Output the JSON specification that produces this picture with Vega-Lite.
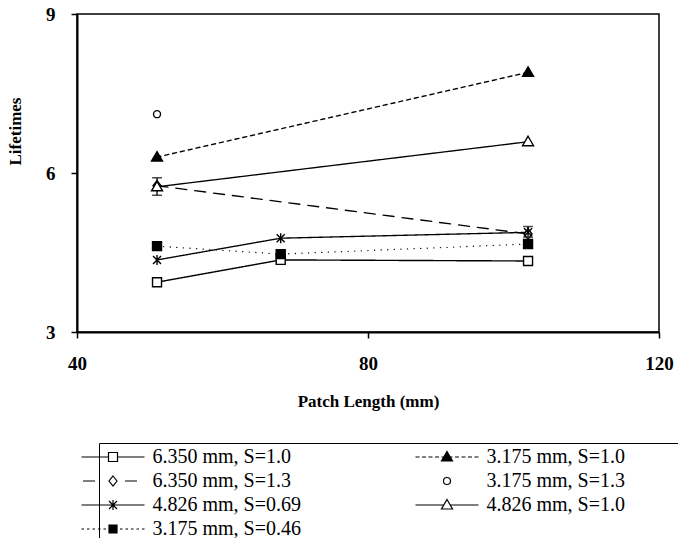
{
  "$schema": "https://vega.github.io/schema/vega-lite/v6.json",
  "width": 582,
  "height": 318,
  "autosize": "none",
  "padding": {"left": 77, "top": 14, "right": 19, "bottom": 206},
  "background": "white",
  "config": {
    "font": "Liberation Serif, Times New Roman, serif",
    "view": {"stroke": "black", "strokeWidth": 1.5},
    "axis": {
      "grid": false,
      "labelFont": "Liberation Serif, Times New Roman, serif",
      "labelFontWeight": "bold",
      "labelFontSize": 19,
      "labelColor": "black",
      "titleFont": "Liberation Serif, Times New Roman, serif",
      "titleFontWeight": "bold",
      "titleFontSize": 17,
      "titleColor": "black",
      "domainColor": "black",
      "domainWidth": 2,
      "tickColor": "black",
      "tickWidth": 1.5,
      "tickSize": 6,
      "labelPadding": 16
    }
  },
  "data": {
    "values": [
      {"s": "6.350 mm, S=1.0", "len": 51, "life": 3.94},
      {"s": "6.350 mm, S=1.0", "len": 68, "life": 4.36},
      {"s": "6.350 mm, S=1.0", "len": 102, "life": 4.34},
      {"s": "3.175 mm, S=1.0", "len": 51, "life": 6.30},
      {"s": "3.175 mm, S=1.0", "len": 102, "life": 7.90},
      {"s": "6.350 mm, S=1.3", "len": 51, "life": 5.76, "lo": 5.58, "hi": 5.91},
      {"s": "6.350 mm, S=1.3", "len": 102, "life": 4.85, "lo": 4.79, "hi": 4.99},
      {"s": "3.175 mm, S=1.3", "len": 51, "life": 7.11},
      {"s": "4.826 mm, S=0.69", "len": 51, "life": 4.36},
      {"s": "4.826 mm, S=0.69", "len": 68, "life": 4.77},
      {"s": "4.826 mm, S=0.69", "len": 102, "life": 4.88},
      {"s": "4.826 mm, S=1.0", "len": 51, "life": 5.74},
      {"s": "4.826 mm, S=1.0", "len": 102, "life": 6.59},
      {"s": "3.175 mm, S=0.46", "len": 51, "life": 4.62},
      {"s": "3.175 mm, S=0.46", "len": 68, "life": 4.47},
      {"s": "3.175 mm, S=0.46", "len": 102, "life": 4.66}
    ]
  },
  "resolve": {"scale": {"shape": "independent", "fill": "independent", "strokeWidth": "independent", "stroke": "independent"}},
  "layer": [
    {
      "transform": [{"filter": "datum.s !== '3.175 mm, S=1.3'"}],
      "mark": {"type": "line", "strokeCap": "round", "color": "black"},
      "encoding": {
        "x": {
          "field": "len", "type": "quantitative",
          "scale": {"domain": [40, 120], "nice": false, "zero": false},
          "axis": {"values": [40, 80, 120], "labelFlush": false, "titlePadding": 20},
          "title": "Patch Length (mm)"
        },
        "y": {
          "field": "life", "type": "quantitative",
          "scale": {"domain": [3, 9], "nice": false, "zero": false},
          "axis": {"values": [3, 6, 9], "titleX": -53, "titleY": 117},
          "title": "Lifetimes"
        },
        "detail": {"field": "s"},
        "strokeDash": {
          "field": "s", "type": "nominal", "legend": null,
          "scale": {
            "domain": ["6.350 mm, S=1.0", "3.175 mm, S=1.0", "6.350 mm, S=1.3", "4.826 mm, S=0.69", "4.826 mm, S=1.0", "3.175 mm, S=0.46"],
            "range": [[1, 0], [4, 4], [11, 8], [1, 0], [1, 0], [0.1, 6.5]]
          }
        },
        "strokeWidth": {
          "field": "s", "type": "nominal", "legend": null,
          "scale": {
            "domain": ["6.350 mm, S=1.0", "3.175 mm, S=1.0", "6.350 mm, S=1.3", "4.826 mm, S=0.69", "4.826 mm, S=1.0", "3.175 mm, S=0.46"],
            "range": [1.4, 1.3, 1.3, 1.4, 1.4, 3.4]
          }
        }
      }
    },
    {
      "transform": [{"filter": "isValid(datum.lo)"}],
      "mark": {"type": "rule", "color": "black", "strokeWidth": 1.3},
      "encoding": {
        "x": {"field": "len", "type": "quantitative"},
        "y": {"field": "lo", "type": "quantitative"},
        "y2": {"field": "hi"}
      }
    },
    {
      "transform": [{"filter": "isValid(datum.lo)"}],
      "mark": {"type": "tick", "orient": "horizontal", "size": 10, "thickness": 1.5, "color": "black"},
      "encoding": {
        "x": {"field": "len", "type": "quantitative"},
        "y": {"field": "lo", "type": "quantitative"}
      }
    },
    {
      "transform": [{"filter": "isValid(datum.hi)"}],
      "mark": {"type": "tick", "orient": "horizontal", "size": 10, "thickness": 1.5, "color": "black"},
      "encoding": {
        "x": {"field": "len", "type": "quantitative"},
        "y": {"field": "hi", "type": "quantitative"}
      }
    },
    {
      "mark": {"type": "point", "filled": true, "size": 100, "stroke": "black", "strokeWidth": 1.4, "opacity": 1},
      "encoding": {
        "x": {"field": "len", "type": "quantitative"},
        "y": {"field": "life", "type": "quantitative"},
        "fill": {
          "field": "s", "type": "nominal", "legend": null,
          "scale": {
            "domain": ["6.350 mm, S=1.0", "3.175 mm, S=1.0", "6.350 mm, S=1.3", "3.175 mm, S=1.3", "4.826 mm, S=0.69", "4.826 mm, S=1.0", "3.175 mm, S=0.46"],
            "range": ["white", "black", "white", "white", "white", "white", "black"]
          }
        },
        "shape": {
          "field": "s", "type": "nominal", "legend": null,
          "scale": {
            "domain": ["6.350 mm, S=1.0", "6.350 mm, S=1.3", "4.826 mm, S=0.69", "3.175 mm, S=0.46", "3.175 mm, S=1.0", "3.175 mm, S=1.3", "4.826 mm, S=1.0"],
            "range": [
              "M-0.9,-0.9L0.9,-0.9L0.9,0.9L-0.9,0.9Z",
              "M0,-1L0.8,0L0,1L-0.8,0Z",
              "M-0.8,-0.8L0.8,0.8M-0.8,0.8L0.8,-0.8M0,-1L0,1",
              "M-0.9,-0.9L0.9,-0.9L0.9,0.9L-0.9,0.9Z",
              "M0,-1.1L1.1,0.8L-1.1,0.8Z",
              "M0.7,0A0.7,0.7 0 1,1 -0.7,0A0.7,0.7 0 1,1 0.7,0Z",
              "M0,-1.1L1.1,0.8L-1.1,0.8Z"
            ]
          }
        }
      }
    },
    {
      "mark": {"type": "point", "filled": false, "size": 100, "color": "black", "opacity": 0},
      "encoding": {
        "x": {"field": "len", "type": "quantitative"},
        "y": {"field": "life", "type": "quantitative"},
        "fill": {
          "field": "s", "type": "nominal", "legend": null,
          "scale": {
            "domain": ["6.350 mm, S=1.0", "6.350 mm, S=1.3", "4.826 mm, S=0.69", "3.175 mm, S=0.46", "3.175 mm, S=1.0", "3.175 mm, S=1.3", "4.826 mm, S=1.0"],
            "range": ["white", "white", "white", "black", "black", "white", "white"]
          }
        },
        "stroke": {
          "field": "s", "type": "nominal", "legend": null,
          "scale": {
            "domain": ["6.350 mm, S=1.0", "6.350 mm, S=1.3", "4.826 mm, S=0.69", "3.175 mm, S=0.46", "3.175 mm, S=1.0", "3.175 mm, S=1.3", "4.826 mm, S=1.0"],
            "range": ["black", "black", "black", "black", "black", "black", "black"]
          }
        },
        "strokeWidth": {
          "field": "s", "type": "nominal", "legend": null,
          "scale": {
            "domain": ["6.350 mm, S=1.0", "6.350 mm, S=1.3", "4.826 mm, S=0.69", "3.175 mm, S=0.46", "3.175 mm, S=1.0", "3.175 mm, S=1.3", "4.826 mm, S=1.0"],
            "range": [1.2, 1.2, 1.2, 2.5, 1.2, 1.2, 1.2]
          }
        },
        "shape": {
          "field": "s", "type": "nominal",
          "scale": {
            "domain": ["6.350 mm, S=1.0", "6.350 mm, S=1.3", "4.826 mm, S=0.69", "3.175 mm, S=0.46", "3.175 mm, S=1.0", "3.175 mm, S=1.3", "4.826 mm, S=1.0"],
            "range": [
              "M-30,0M-6.3,0L-0.9,0M0.9,0L6.3,0M-0.9,-0.9L0.9,-0.9L0.9,0.9L-0.9,0.9Z",
              "M-30,0M-6,0L-3.6,0M2.4,0L4.8,0M0,-1L0.8,0L0,1L-0.8,0Z",
              "M-30,0M-6.3,0L6.3,0M-0.8,-0.8L0.8,0.8M-0.8,0.8L0.8,-0.8M0,-1L0,1",
              "M-30,0M-6.3,0L-5.8,0M-5.2,0L-4.7,0M-4.1,0L-3.6,0M-3,0L-2.5,0M-1.9,0L-1.4,0M1.4,0L1.9,0M2.5,0L3,0M3.6,0L4.1,0M4.7,0L5.2,0M5.8,0L6.3,0M-0.8,-0.8L0.8,-0.8L0.8,0.8L-0.8,0.8Z",
              "M-6.3,0L-5.5,0M-5,0L-4.2,0M-3.7,0L-2.9,0M-2.4,0L-1.6,0M-1.1,0L-0.6,0M0.6,0L1.1,0M1.6,0L2.4,0M2.9,0L3.7,0M4.2,0L5,0M5.5,0L6.3,0M0,-1.1L1.1,0.8L-1.1,0.8ZM50,0",
              "M-6.3,0M0.7,0A0.7,0.7 0 1,1 -0.7,0A0.7,0.7 0 1,1 0.7,0ZM50,0",
              "M-6.3,0L-0.64,0M0.64,0L6.3,0M0,-1.1L1.1,0.8L-1.1,0.8ZM50,0"
            ]
          },
          "legend": {
            "orient": "none",
            "legendX": 22,
            "legendY": 429,
            "columns": 2,
            "title": null,
            "columnPadding": 111,
            "rowPadding": 4,
            "padding": 4,
            "strokeColor": "black",
            "fillColor": "white",
            "symbolSize": 100,
            "symbolOpacity": 1,
            "symbolStrokeWidth": 1.2,
            "symbolStrokeColor": "black",
            "labelFont": "Liberation Serif, Times New Roman, serif",
            "labelFontSize": 20,
            "labelColor": "black",
            "labelOffset": 29.5,
            "labelLimit": 400
          }
        }
      }
    }
  ]
}
